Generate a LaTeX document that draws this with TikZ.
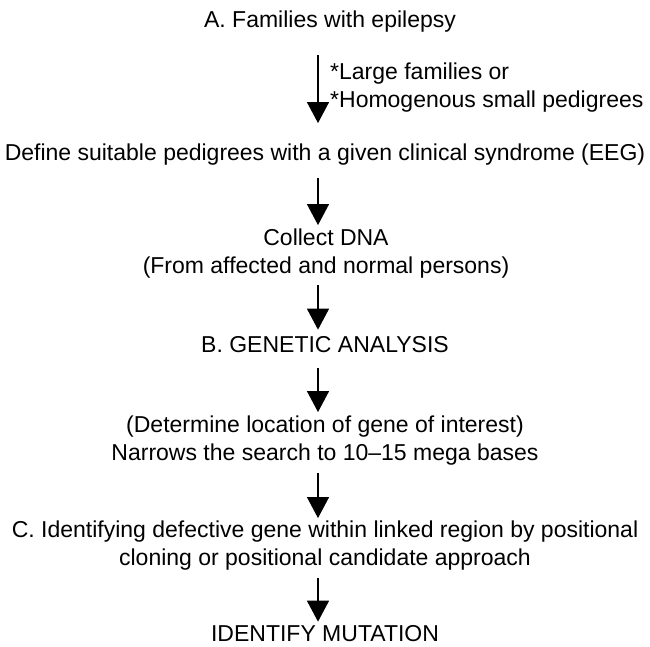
\documentclass[tikz,border=0pt]{standalone}
\usepackage{fontspec}
\setmainfont{Liberation Sans}
\usetikzlibrary{arrows.meta}
\tikzset{
  txt/.style={inner sep=0pt, font=\fontsize{23}{28}\selectfont, align=center},
  side/.style={inner sep=0pt, font=\fontsize{23}{28}\selectfont, align=left, anchor=west},
  flow/.style={line width=1.2pt, -{Triangle[length=21pt,width=22pt]}}
}
\begin{document}
\begin{tikzpicture}[x=1pt,y=-1pt]
\useasboundingbox (0,0) rectangle (650,646);

% column of arrows
\coordinate (ax) at (318,0);

% steps
\node[txt] (fam) at (330,22) {A. Families with epilepsy};
\node[txt] (def) at (325,155) {Define suitable pedigrees with a given clinical syndrome (EEG)};
\node[txt] (dna) at (326,254) {Collect DNA\\(From affected and normal persons)};
\node[txt] (gen) at (325,345) {B. GENETIC ANALYSIS};
\node[txt] (loc) at (325,441) {(Determine location of gene of interest)\\Narrows the search to 10--15 mega bases};
\node[txt] (ide) at (325,546) {C. Identifying defective gene within linked region by positional\\cloning or positional candidate approach};
\node[txt] (mut) at (325,634) {IDENTIFY MUTATION};

% note beside first arrow
\node[side] (note) at (330,88) {*Large families or\\*Homogenous small pedigrees};

% arrows
\draw[flow] ([yshift=-22pt]fam.south -| ax) -- ([yshift=21pt]def.north -| ax);
\draw[flow] ([yshift=-12pt]def.south -| ax) -- ([yshift=4pt]dna.north -| ax);
\draw[flow] ([yshift=-6pt]dna.south -| ax) -- ([yshift=7pt]gen.north -| ax);
\draw[flow] ([yshift=-15pt]gen.south -| ax) -- ([yshift=4pt]loc.north -| ax);
\draw[flow] ([yshift=-7pt]loc.south -| ax) -- ([yshift=3pt]ide.north -| ax);
\draw[flow] ([yshift=-7pt]ide.south -| ax) -- ([yshift=4pt]mut.north -| ax);
\end{tikzpicture}
\end{document}
